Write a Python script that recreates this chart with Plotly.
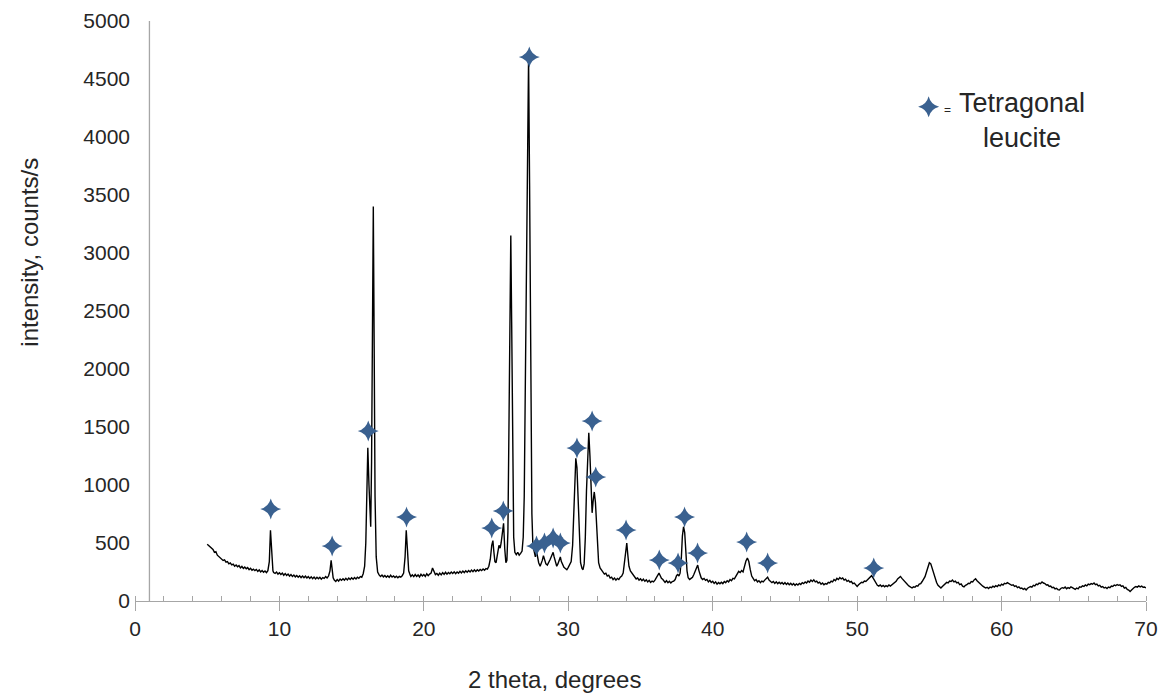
import plotly.graph_objects as go

# ---- data: (2-theta, intensity) pairs by region ----
scan_05_16 = [
    (5.0, 490), (5.1, 480), (5.2, 470), (5.3, 455), (5.4, 445), (5.5, 420), (5.6, 425), (5.7, 395), (5.8, 385), (5.9, 370),
    (6.0, 365), (6.1, 350), (6.2, 355), (6.3, 335), (6.4, 340), (6.5, 320), (6.6, 328), (6.7, 312), (6.8, 318), (6.9, 300),
    (7.0, 310), (7.1, 295), (7.2, 305), (7.3, 285), (7.4, 298), (7.5, 280), (7.6, 292), (7.7, 278), (7.8, 288), (7.9, 270),
    (8.0, 282), (8.1, 265), (8.2, 275), (8.3, 262), (8.4, 272), (8.5, 255), (8.6, 268), (8.7, 250), (8.8, 262), (8.9, 248),
    (9.0, 258), (9.1, 245), (9.2, 262), (9.3, 340), (9.38, 610), (9.45, 420), (9.55, 260), (9.6, 245), (9.7, 238), (9.8, 250),
    (9.9, 232), (10.0, 244), (10.1, 228), (10.2, 240), (10.3, 222), (10.4, 236), (10.5, 220), (10.6, 232), (10.7, 215), (10.8, 228),
    (10.9, 212), (11.0, 224), (11.1, 208), (11.2, 220), (11.3, 205), (11.4, 218), (11.5, 202), (11.6, 215), (11.7, 200), (11.8, 214),
    (11.9, 198), (12.0, 210), (12.1, 195), (12.2, 208), (12.3, 192), (12.4, 206), (12.5, 190), (12.6, 204), (12.7, 192), (12.8, 205),
    (12.9, 188), (13.0, 202), (13.1, 195), (13.2, 210), (13.3, 198), (13.4, 215), (13.5, 260), (13.58, 350), (13.65, 260), (13.72, 200),
    (13.8, 180), (13.9, 168), (14.0, 185), (14.1, 172), (14.2, 190), (14.3, 178), (14.4, 192), (14.5, 180), (14.6, 195), (14.7, 182),
    (14.8, 198), (14.9, 185), (15.0, 200), (15.1, 188), (15.2, 202), (15.3, 190), (15.4, 205), (15.5, 195), (15.6, 210), (15.7, 205),
]
scan_16_24 = [
    (15.8, 235), (15.9, 300), (15.98, 500), (16.05, 900), (16.12, 1320), (16.2, 1000), (16.27, 700), (16.32, 640), (16.38, 1200), (16.45, 2600),
    (16.5, 3400), (16.56, 2200), (16.62, 900), (16.7, 380), (16.8, 250), (16.9, 225), (17.0, 212), (17.1, 224), (17.2, 208), (17.3, 220),
    (17.4, 205), (17.5, 218), (17.6, 204), (17.7, 222), (17.8, 206), (17.9, 216), (18.0, 202), (18.1, 214), (18.2, 200), (18.3, 212),
    (18.4, 205), (18.5, 218), (18.6, 240), (18.7, 380), (18.78, 610), (18.86, 450), (18.95, 260), (19.05, 225), (19.1, 212), (19.2, 226),
    (19.3, 210), (19.4, 228), (19.5, 212), (19.6, 225), (19.7, 208), (19.8, 230), (19.9, 215), (20.0, 228), (20.1, 212), (20.2, 235),
    (20.3, 218), (20.4, 232), (20.5, 240), (20.6, 285), (20.7, 250), (20.8, 228), (20.9, 238), (21.0, 222), (21.1, 240), (21.2, 225),
    (21.3, 245), (21.4, 230), (21.5, 248), (21.6, 232), (21.7, 246), (21.8, 235), (21.9, 250), (22.0, 238), (22.1, 252), (22.2, 236),
    (22.3, 250), (22.4, 240), (22.5, 256), (22.6, 242), (22.7, 258), (22.8, 245), (22.9, 260), (23.0, 248), (23.1, 262), (23.2, 250),
    (23.3, 266), (23.4, 252), (23.5, 268), (23.6, 255), (23.7, 270), (23.8, 258), (23.9, 272), (24.0, 262), (24.1, 276), (24.2, 265),
    (24.3, 280), (24.4, 275),
]
scan_24_33 = [
    (24.5, 300), (24.6, 360), (24.7, 480), (24.78, 520), (24.85, 420), (24.92, 340), (25.0, 330), (25.1, 420), (25.2, 480), (25.28, 455),
    (25.35, 500), (25.45, 600), (25.52, 670), (25.6, 450), (25.68, 330), (25.75, 350), (25.82, 600), (25.9, 1600), (25.97, 2800), (26.02, 3150),
    (26.08, 2400), (26.15, 1200), (26.22, 550), (26.3, 420), (26.4, 400), (26.5, 420), (26.6, 395), (26.7, 410), (26.8, 430), (26.88, 550),
    (26.95, 900), (27.02, 1800), (27.1, 3000), (27.18, 4200), (27.25, 4680), (27.32, 3600), (27.4, 1800), (27.48, 750), (27.55, 480), (27.65, 400),
    (27.72, 380), (27.8, 430), (27.88, 370), (27.95, 330), (28.05, 300), (28.12, 320), (28.2, 350), (28.28, 390), (28.35, 360), (28.45, 320),
    (28.55, 310), (28.65, 330), (28.75, 360), (28.85, 390), (28.95, 420), (29.02, 380), (29.1, 330), (29.2, 300), (29.28, 320), (29.38, 360),
    (29.45, 380), (29.52, 340), (29.6, 310), (29.7, 290), (29.8, 280), (29.9, 270), (30.0, 290), (30.1, 310), (30.2, 340), (30.3, 480),
    (30.38, 750), (30.45, 1050), (30.52, 1230), (30.6, 1150), (30.68, 850), (30.76, 520), (30.85, 330), (30.95, 280), (31.02, 270), (31.1, 320),
    (31.18, 550), (31.26, 950), (31.34, 1300), (31.42, 1450), (31.5, 1250), (31.58, 850), (31.65, 760), (31.72, 860), (31.8, 940), (31.88, 850),
    (31.95, 650), (32.02, 450), (32.1, 330), (32.2, 285), (32.3, 265), (32.4, 250), (32.5, 232), (32.6, 240), (32.7, 215), (32.8, 222),
    (32.9, 198),
]
scan_33_44 = [
    (33.0, 205), (33.1, 185), (33.2, 198), (33.3, 180), (33.4, 195), (33.5, 185), (33.6, 205), (33.7, 215), (33.8, 240), (33.9, 350),
    (33.98, 480), (34.05, 500), (34.12, 400), (34.2, 300), (34.3, 260), (34.4, 245), (34.5, 225), (34.6, 205), (34.7, 190), (34.8, 198),
    (34.9, 180), (35.0, 192), (35.1, 175), (35.2, 188), (35.3, 170), (35.4, 182), (35.5, 165), (35.6, 178), (35.7, 160), (35.8, 172),
    (35.9, 165), (36.0, 180), (36.1, 200), (36.2, 225), (36.28, 240), (36.36, 220), (36.45, 195), (36.55, 185), (36.6, 172), (36.7, 160),
    (36.8, 175), (36.9, 158), (37.0, 170), (37.1, 155), (37.2, 168), (37.3, 172), (37.4, 185), (37.5, 220), (37.58, 228), (37.66, 215),
    (37.74, 240), (37.82, 350), (37.9, 560), (37.98, 640), (38.06, 590), (38.14, 400), (38.22, 260), (38.3, 200), (38.4, 185), (38.5, 195),
    (38.6, 205), (38.7, 230), (38.8, 265), (38.9, 300), (38.96, 310), (39.05, 260), (39.12, 220), (39.2, 200), (39.3, 185), (39.4, 195),
    (39.5, 178), (39.6, 186), (39.7, 165), (39.8, 178), (39.9, 160), (40.0, 170), (40.1, 152), (40.2, 165), (40.3, 145), (40.4, 160),
    (40.5, 148), (40.6, 162), (40.7, 150), (40.8, 168), (40.9, 158), (41.0, 175), (41.1, 165), (41.2, 185), (41.3, 175), (41.4, 195),
    (41.5, 190), (41.6, 215), (41.7, 230), (41.8, 255), (41.9, 245), (42.0, 262), (42.1, 250), (42.2, 300), (42.3, 345), (42.4, 370),
    (42.5, 340), (42.6, 270), (42.7, 215), (42.8, 195), (42.9, 175), (43.0, 185), (43.1, 165), (43.2, 175), (43.3, 158), (43.4, 172),
    (43.5, 165), (43.6, 180), (43.7, 190), (43.8, 205), (43.9, 180),
]
scan_44_57 = [
    (44.0, 170), (44.1, 158), (44.2, 168), (44.3, 152), (44.4, 165), (44.5, 150), (44.6, 162), (44.7, 148), (44.8, 160), (44.9, 145),
    (45.0, 158), (45.1, 142), (45.2, 155), (45.3, 140), (45.4, 152), (45.5, 138), (45.6, 150), (45.7, 135), (45.8, 148), (45.9, 138),
    (46.0, 152), (46.1, 142), (46.2, 158), (46.3, 150), (46.4, 165), (46.5, 155), (46.6, 172), (46.7, 162), (46.8, 180), (46.9, 168),
    (47.0, 182), (47.1, 165), (47.2, 172), (47.3, 155), (47.4, 162), (47.5, 145), (47.6, 155), (47.7, 140), (47.8, 150), (47.9, 145),
    (48.0, 160), (48.1, 155), (48.2, 172), (48.3, 165), (48.4, 185), (48.5, 175), (48.6, 195), (48.7, 185), (48.8, 202), (48.9, 190),
    (49.0, 198), (49.1, 180), (49.2, 188), (49.3, 170), (49.4, 178), (49.5, 162), (49.6, 168), (49.7, 150), (49.8, 155), (49.9, 135),
    (50.0, 125), (50.1, 140), (50.2, 150), (50.3, 162), (50.4, 158), (50.5, 172), (50.6, 168), (50.7, 182), (50.8, 190), (50.9, 205),
    (51.0, 218), (51.1, 200), (51.2, 175), (51.3, 150), (51.4, 135), (51.5, 128), (51.6, 138), (51.7, 125), (51.8, 135), (51.9, 122),
    (52.0, 132), (52.1, 125), (52.2, 138), (52.3, 128), (52.4, 140), (52.5, 145), (52.6, 160), (52.7, 170), (52.8, 190), (52.9, 200),
    (53.0, 212), (53.1, 195), (53.2, 180), (53.3, 162), (53.4, 150), (53.5, 140), (53.6, 128), (53.7, 120), (53.8, 112), (53.9, 122),
    (54.0, 118), (54.1, 132), (54.2, 128), (54.3, 145), (54.4, 150), (54.5, 168), (54.6, 185), (54.7, 210), (54.8, 250), (54.9, 295),
    (55.0, 330), (55.1, 320), (55.2, 280), (55.3, 230), (55.4, 190), (55.5, 160), (55.6, 135), (55.7, 120), (55.8, 112), (55.9, 125),
    (56.0, 135), (56.1, 148), (56.2, 160), (56.3, 155), (56.4, 172), (56.5, 168), (56.6, 180), (56.7, 165), (56.8, 172), (56.9, 155),
]
scan_57_70 = [
    (57.0, 160), (57.1, 142), (57.2, 148), (57.3, 128), (57.4, 122), (57.5, 135), (57.6, 140), (57.7, 152), (57.8, 150), (57.9, 168),
    (58.0, 165), (58.1, 182), (58.2, 192), (58.3, 175), (58.4, 162), (58.5, 150), (58.6, 140), (58.7, 128), (58.8, 120), (58.9, 112),
    (59.0, 118), (59.1, 108), (59.2, 120), (59.3, 115), (59.4, 128), (59.5, 120), (59.6, 132), (59.7, 125), (59.8, 138), (59.9, 130),
    (60.0, 145), (60.1, 138), (60.2, 152), (60.3, 148), (60.4, 158), (60.5, 150), (60.6, 145), (60.7, 135), (60.8, 140), (60.9, 125),
    (61.0, 130), (61.1, 115), (61.2, 122), (61.3, 108), (61.4, 112), (61.5, 100), (61.6, 108), (61.7, 95), (61.8, 110), (61.9, 115),
    (62.0, 125), (62.1, 120), (62.2, 135), (62.3, 130), (62.4, 145), (62.5, 140), (62.6, 155), (62.7, 150), (62.8, 165), (62.9, 155),
    (63.0, 150), (63.1, 138), (63.2, 140), (63.3, 125), (63.4, 128), (63.5, 115), (63.6, 118), (63.7, 105), (63.8, 110), (63.9, 98),
    (64.0, 95), (64.1, 108), (64.2, 115), (64.3, 110), (64.4, 120), (64.5, 105), (64.6, 115), (64.7, 108), (64.8, 122), (64.9, 115),
    (65.0, 110), (65.1, 100), (65.2, 112), (65.3, 105), (65.4, 122), (65.5, 118), (65.6, 130), (65.7, 125), (65.8, 138), (65.9, 130),
    (66.0, 145), (66.1, 140), (66.2, 150), (66.3, 145), (66.4, 155), (66.5, 140), (66.6, 145), (66.7, 130), (66.8, 135), (66.9, 120),
    (67.0, 125), (67.1, 112), (67.2, 118), (67.3, 108), (67.4, 120), (67.5, 115), (67.6, 128), (67.7, 125), (67.8, 138), (67.9, 132),
    (68.0, 142), (68.1, 135), (68.2, 140), (68.3, 125), (68.4, 130), (68.5, 112), (68.6, 118), (68.7, 100), (68.8, 95), (68.9, 82),
    (69.0, 95), (69.1, 110), (69.2, 118), (69.3, 125), (69.4, 120), (69.5, 130), (69.6, 122), (69.7, 128), (69.8, 118), (69.9, 120),
    (70.0, 112),
]

# tetragonal leucite reflection markers
star_x = [9.4, 13.65, 16.15, 18.8, 24.7, 25.5, 27.3, 27.8, 28.35, 28.95, 29.45, 30.6, 31.65, 31.9,
          34.0, 36.3, 37.6, 38.05, 38.95, 42.35, 43.8, 51.15]
star_y = [793, 474, 1465, 724, 630, 776, 4690, 474, 500, 543, 500, 1319, 1552, 1069,
          612, 353, 328, 724, 414, 509, 328, 284]

x_ticks = [0, 10, 20, 30, 40, 50, 60, 70]
y_ticks = [0, 500, 1000, 1500, 2000, 2500, 3000, 3500, 4000, 4500, 5000]

scan = scan_05_16 + scan_16_24 + scan_24_33 + scan_33_44 + scan_44_57 + scan_57_70
two_theta = [p[0] for p in scan]
intensity = [p[1] for p in scan]

STAR_COLOR = "#3A6190"
AXIS_COLOR = "#A6A6A6"
TEXT_COLOR = "#262626"
FONT = "Liberation Sans, Arial, sans-serif"

fig = go.Figure()
fig.add_trace(go.Scatter(
    x=two_theta, y=intensity, mode="lines",
    line=dict(color="black", width=1.4),
    showlegend=False, hoverinfo="skip",
))
fig.add_trace(go.Scatter(
    x=star_x, y=star_y, mode="markers",
    marker=dict(symbol="star-diamond", size=15, color=STAR_COLOR, line=dict(width=0)),
    showlegend=False,
))
# legend key star on an overlay unit axis
fig.add_trace(go.Scatter(
    x=[0.785], y=[0.852], mode="markers", xaxis="x2", yaxis="y2",
    marker=dict(symbol="star-diamond", size=15, color=STAR_COLOR, line=dict(width=0)),
    showlegend=False, hoverinfo="skip",
))

fig.update_layout(
    width=1165, height=692,
    margin=dict(l=127, r=27, t=13, b=99, autoexpand=False),
    paper_bgcolor="white", plot_bgcolor="white",
    font=dict(family=FONT, color=TEXT_COLOR),
    xaxis=dict(
        range=[0, 70], tickvals=x_ticks, showgrid=False, zeroline=False, automargin=False,
        showline=True, linecolor=AXIS_COLOR, linewidth=1.3,
        ticks="outside", ticklen=9, tickcolor=AXIS_COLOR, tickwidth=1.3,
        tickfont=dict(size=21, family=FONT, color=TEXT_COLOR),
        minor=dict(dtick=2, ticks="inside", ticklen=5, tickcolor=AXIS_COLOR, tickwidth=1.2, showgrid=False),
    ),
    yaxis=dict(
        range=[0, 5000], tickvals=y_ticks, showgrid=False, zeroline=False, automargin=False,
        showline=False, ticks="", ticklabelstandoff=4,
        tickfont=dict(size=21, family=FONT, color=TEXT_COLOR),
    ),
    xaxis2=dict(range=[0, 1], overlaying="x", visible=False, fixedrange=True, automargin=False),
    yaxis2=dict(range=[0, 1], overlaying="y", visible=False, fixedrange=True, anchor="x2", automargin=False),
    shapes=[dict(type="line", xref="x", yref="y", x0=1, x1=1, y0=0, y1=5000,
                 line=dict(color=AXIS_COLOR, width=1.3))],
    annotations=[
        dict(text="2 theta, degrees", xref="paper", yref="paper", x=0.415, y=-0.136,
             showarrow=False, font=dict(size=24, family=FONT, color=TEXT_COLOR),
             xanchor="center", yanchor="middle"),
        dict(text="intensity, counts/s", xref="paper", yref="paper", x=-0.104, y=0.602,
             showarrow=False, textangle=-90, font=dict(size=24, family=FONT, color=TEXT_COLOR),
             xanchor="center", yanchor="middle"),
        dict(text="=", xref="paper", yref="paper", x=0.804, y=0.846,
             showarrow=False, font=dict(size=12, family=FONT, color=TEXT_COLOR),
             xanchor="center", yanchor="middle"),
        dict(text="Tetragonal<br>leucite", xref="paper", yref="paper", x=0.877, y=0.828,
             showarrow=False, align="center", font=dict(size=27, family=FONT, color=TEXT_COLOR),
             xanchor="center", yanchor="middle"),
    ],
)

fig.write_html("out.html")
